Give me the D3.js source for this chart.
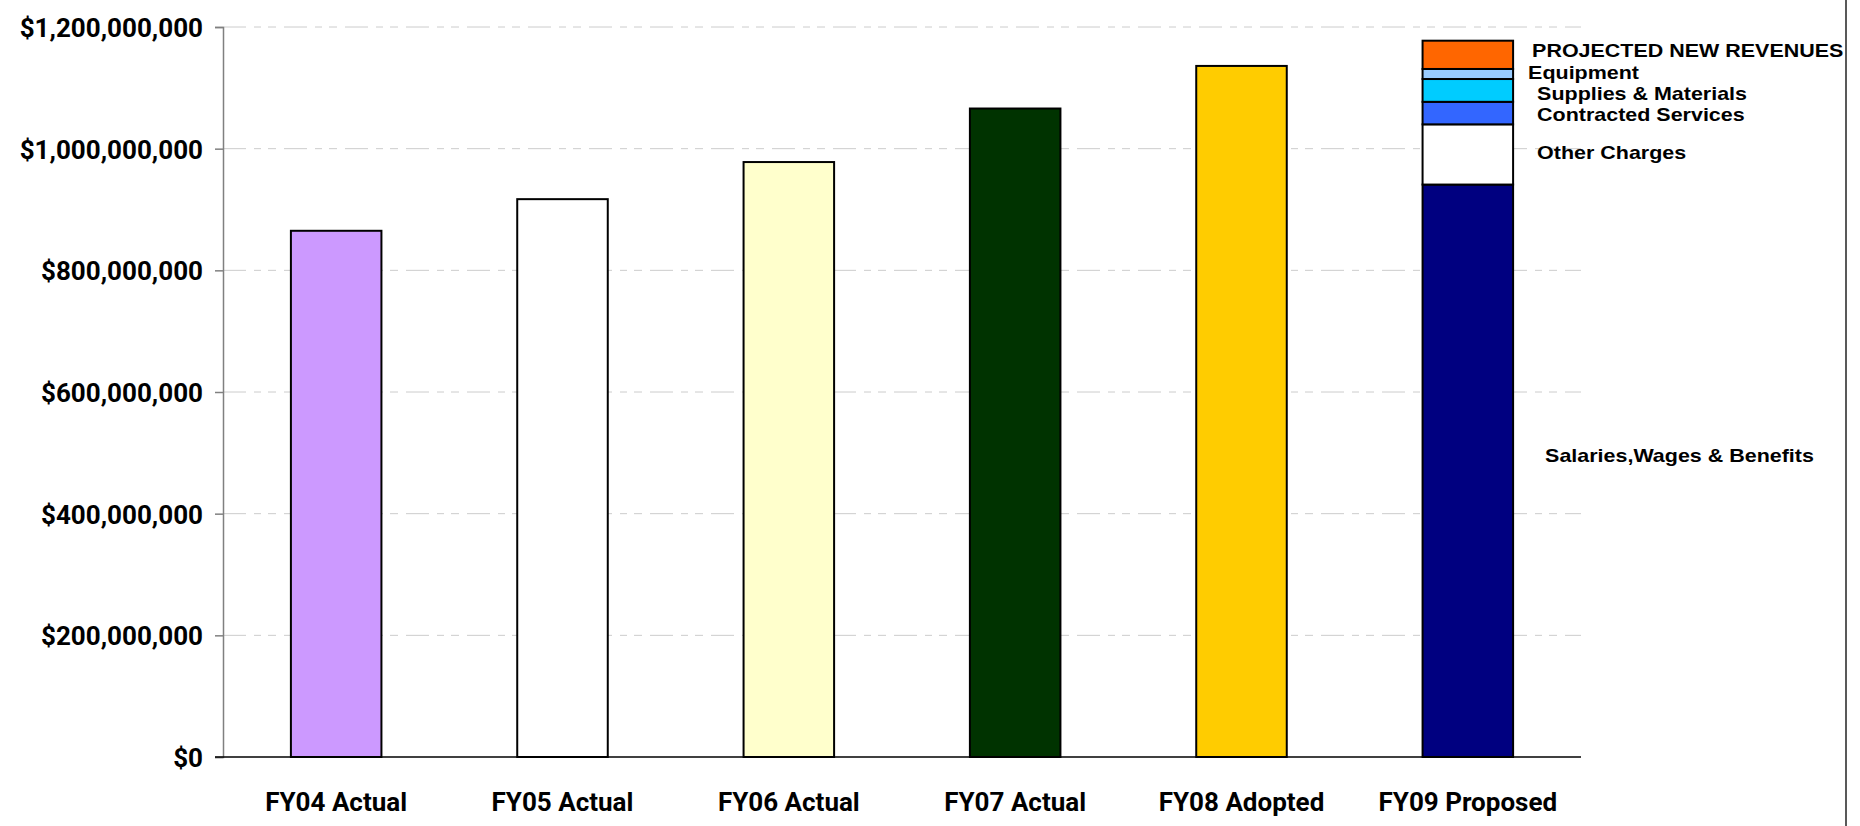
<!DOCTYPE html>
<html>
<head>
<meta charset="utf-8">
<script src="https://cdn.jsdelivr.net/npm/d3@7"></script>
<style>
  html, body { margin: 0; padding: 0; background: #fff; }
  svg { display: block; }
</style>
</head>
<body>
<svg id="chart" width="1860" height="826"></svg>
<script>
// ---- data ----
const categories = ["FY04 Actual", "FY05 Actual", "FY06 Actual", "FY07 Actual", "FY08 Adopted", "FY09 Proposed"];
const totals = [865e6, 917e6, 978e6, 1066e6, 1136e6, null];
const barColors = ["#CC99FF", "#FFFFFF", "#FFFFCC", "#003300", "#FFCC00", null];

const fy09Segments = ["Salaries,Wages & Benefits", "Other Charges", "Contracted Services", "Supplies & Materials", "Equipment", "PROJECTED NEW REVENUES"];
const fy09Values = [941e6, 99e6, 37e6, 37.5e6, 16.5e6, 46.5e6];
const fy09Colors = ["#000080", "#FFFFFF", "#3366FF", "#00CCFF", "#99CCFF", "#FF6600"];

const yTicks = [0, 200e6, 400e6, 600e6, 800e6, 1000e6, 1200e6];

// ---- layout ----
(function () {
const svg = d3.select("#chart");
const mLeft = 223, mRight = 1581, mTop = 27, mBottom = 757;

const x = d3.scaleBand().domain(categories).range([mLeft, mRight]).paddingInner(0.6).paddingOuter(0.3);
const y = d3.scaleLinear().domain([0, 1200e6]).range([mBottom, mTop]);

// gridlines
svg.append("g").selectAll("line")
  .data(yTicks.filter(d => d > 0))
  .join("line")
  .attr("x1", mLeft).attr("x2", mRight)
  .attr("y1", d => y(d)).attr("y2", d => y(d))
  .attr("stroke", "#cccccc").attr("stroke-width", 1)
  .attr("stroke-dasharray", "23,8,7,7,8,8");

// y axis
const yAxis = d3.axisLeft(y).tickValues(yTicks).tickSize(8).tickPadding(12)
  .tickFormat(d => "$" + d3.format(",")(d));
const gy = svg.append("g").attr("transform", `translate(${mLeft},0)`).call(yAxis);
gy.select(".domain").attr("stroke", "#808080").attr("stroke-width", 1.5);
gy.selectAll(".tick line").attr("stroke", "#808080").attr("stroke-width", 1.5);
gy.selectAll(".tick text")
  .attr("font-family", "Roboto, sans-serif").attr("font-weight", "bold")
  .attr("font-size", 26).attr("fill", "#000").attr("dy", "0.36em");

// bars (single)
const single = categories.map((c, i) => ({ c, v: totals[i], col: barColors[i] })).filter(d => d.v != null);
svg.append("g").selectAll("rect")
  .data(single)
  .join("rect")
  .attr("x", d => x(d.c))
  .attr("width", x.bandwidth())
  .attr("y", d => y(d.v))
  .attr("height", d => y(0) - y(d.v))
  .attr("fill", d => d.col)
  .attr("stroke", "#000").attr("stroke-width", 2);

// stacked FY09
const cat09 = categories[5];
let acc = 0;
const stack = fy09Values.map((v, i) => {
  const s = { name: fy09Segments[i], y0: acc, y1: acc + v, col: fy09Colors[i] };
  acc += v;
  return s;
});
svg.append("g").selectAll("rect")
  .data(stack)
  .join("rect")
  .attr("x", x(cat09))
  .attr("width", x.bandwidth())
  .attr("y", d => y(d.y1))
  .attr("height", d => y(d.y0) - y(d.y1))
  .attr("fill", d => d.col)
  .attr("stroke", "#000").attr("stroke-width", 2);

// segment labels (offsets relative to bar right edge and segment middle)
const labelOffsets = [[32, -8.6], [24, 4.8], [24, 8], [24, 9.7], [15, 5.5], [19, 2]];
const barRight = x(cat09) + x.bandwidth();
svg.append("g").selectAll("text")
  .data(stack)
  .join("text")
  .attr("transform", (d, i) => {
    const mid = (y(d.y0) + y(d.y1)) / 2;
    return `translate(${barRight + labelOffsets[i][0]},${mid + labelOffsets[i][1]}) scale(1.13,1)`;
  })
  .attr("font-family", "'Liberation Sans', Arial, sans-serif")
  .attr("font-weight", "bold").attr("font-size", 19).attr("fill", "#000")
  .text(d => d.name);

// x baseline
svg.append("line")
  .attr("x1", mLeft - 8).attr("x2", mRight)
  .attr("y1", y(0)).attr("y2", y(0))
  .attr("stroke", "#000").attr("stroke-width", 1.5);

// x labels
svg.append("g").selectAll("text")
  .data(categories)
  .join("text")
  .attr("x", d => x(d) + x.bandwidth() / 2)
  .attr("y", 811)
  .attr("text-anchor", "middle")
  .attr("font-family", "Roboto, sans-serif").attr("font-weight", "bold")
  .attr("font-size", 26).attr("fill", "#000")
  .text(d => d);

// right frame line
svg.append("line")
  .attr("x1", 1846).attr("x2", 1846).attr("y1", 0).attr("y2", 826)
  .attr("stroke", "#222").attr("stroke-width", 1.5);
})();
</script>
</body>
</html>
